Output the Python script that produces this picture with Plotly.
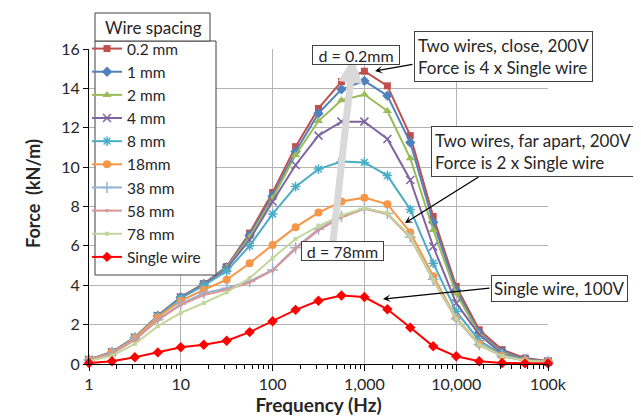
import plotly.graph_objects as go

freq = [1, 1.78, 3.16, 5.62, 10, 17.8, 31.6, 56.2, 100, 178, 316, 562, 1000,
        1780, 3160, 5620, 10000, 17800, 31600, 56200, 100000]

f_02mm = [0.22, 0.60, 1.35, 2.46, 3.40, 4.08, 4.95, 6.65, 8.71, 11.04, 12.98, 14.34, 14.87,
          14.13, 11.60, 7.49, 3.94, 1.74, 0.73, 0.30, 0.15]
f_1mm = [0.22, 0.60, 1.35, 2.45, 3.39, 4.06, 4.92, 6.55, 8.53, 10.79, 12.73, 13.95, 14.38,
         13.63, 11.25, 7.20, 3.75, 1.60, 0.62, 0.25, 0.13]
f_2mm = [0.22, 0.60, 1.35, 2.45, 3.38, 4.05, 4.90, 6.45, 8.42, 10.61, 12.34, 13.40, 13.69,
         12.85, 10.45, 6.81, 3.58, 1.52, 0.57, 0.23, 0.12]
f_4mm = [0.22, 0.60, 1.34, 2.44, 3.37, 4.03, 4.86, 6.30, 8.25, 10.11, 11.60, 12.31, 12.31,
         11.43, 9.35, 5.97, 3.09, 1.49, 0.52, 0.22, 0.12]
f_8mm = [0.21, 0.59, 1.33, 2.43, 3.34, 3.98, 4.72, 6.00, 7.62, 9.01, 9.90, 10.28, 10.24,
         9.57, 7.85, 5.12, 2.67, 1.20, 0.47, 0.20, 0.11]
f_18mm = [0.21, 0.58, 1.32, 2.38, 3.21, 3.77, 4.28, 5.12, 6.05, 6.95, 7.69, 8.25, 8.45,
          8.11, 6.69, 4.46, 2.35, 1.02, 0.42, 0.18, 0.10]
f_38mm = [0.20, 0.55, 1.25, 2.25, 3.05, 3.60, 3.85, 4.20, 4.78, 5.90, 6.85, 7.50, 7.90,
          7.65, 6.45, 4.30, 2.30, 0.98, 0.40, 0.18, 0.10]
f_58mm = [0.20, 0.53, 1.22, 2.22, 3.00, 3.50, 3.77, 4.14, 4.75, 5.85, 6.80, 7.45, 7.88,
          7.62, 6.42, 4.25, 2.28, 0.97, 0.40, 0.18, 0.10]
f_78mm = [0.15, 0.42, 1.02, 1.92, 2.60, 3.10, 3.64, 4.36, 5.38, 6.35, 7.00, 7.55, 7.92,
          7.66, 6.48, 4.28, 2.30, 0.98, 0.40, 0.18, 0.10]
f_single = [0.05, 0.14, 0.34, 0.59, 0.85, 0.98, 1.18, 1.62, 2.17, 2.75, 3.21, 3.48, 3.40,
            2.78, 1.85, 0.90, 0.39, 0.14, 0.05, 0.03, 0.03]

x_tickvals = [1, 10, 100, 1000, 10000, 100000]
x_ticktext = ["1", "10", "100", "1,000", "10,000", "100k"]
minor_vals = [m * 10 ** e for e in range(5) for m in range(2, 10)]

FONT = "Lato"
TXT = "#262626"
BORDER = "#404040"

series = [
    ("0.2 mm", f_02mm, "#C0504D", "square", 7, None),
    ("1 mm", f_1mm, "#4F81BD", "diamond", 8, None),
    ("2 mm", f_2mm, "#9BBB59", "triangle-up", 8, None),
    ("4 mm", f_4mm, "#8064A2", "x-thin-open", 8, 1.5),
    ("8 mm", f_8mm, "#4BACC6", "asterisk-open", 8, 1.5),
    ("18mm", f_18mm, "#F79646", "circle", 8, None),
    ("38 mm", f_38mm, "#95B3D7", "cross-thin-open", 8, 1.5),
    ("58 mm", f_58mm, "#D99694", "square", 3, None),
    ("78 mm", f_78mm, "#C3D69B", "square", 4, None),
    ("Single wire", f_single, "#FF0000", "diamond", 8, None),
]

fig = go.Figure()
for i, (name, vals, col, sym, size, lw) in enumerate(series):
    marker = dict(symbol=sym, size=size, color=col)
    if lw:
        marker["line"] = dict(color=col, width=lw)
    fig.add_trace(go.Scatter(
        x=freq, y=vals, name=name, mode="lines+markers",
        line=dict(color=col, width=2), marker=marker,
        cliponaxis=False,
    ))

L, R, T, B = 81, 101, 41, 60
W, H = 641, 416
PW, PH = W - L - R, H - T - B


def px(x):
    return (x - L) / PW


def py(y):
    return (H - B - y) / PH


fig.update_layout(
    width=W, height=H,
    margin=dict(l=L, r=R, t=T, b=B),
    paper_bgcolor="white", plot_bgcolor="white",
    font=dict(family=FONT, size=16, color=TXT),
    legend=dict(
        x=px(79), y=py(24), xanchor="left", yanchor="top",
        bgcolor="rgba(0,0,0,0)", borderwidth=0,
        font=dict(family=FONT, size=15.5, color=TXT),
        itemwidth=30, maxheight=400, tracegroupgap=0,
    ),
    showlegend=True,
)

fig.update_xaxes(
    type="log", range=[0, 5],
    tickvals=x_tickvals, ticktext=x_ticktext,
    ticks="outside", ticklen=6, tickcolor="black",
    showline=True, linecolor="black", linewidth=1,
    showgrid=True, gridcolor="#b3b3b3", gridwidth=1,
    zeroline=False,
    tickfont=dict(family=FONT, size=16, color=TXT),
    minor=dict(tickvals=minor_vals, ticks="outside", ticklen=4, tickcolor="black", showgrid=False),
    title=dict(text="<b>Frequency (Hz)</b>", font=dict(family=FONT, size=19, color=TXT), standoff=6),
)
fig.update_yaxes(
    range=[0, 16], dtick=2,
    ticks="outside", ticklen=5, tickcolor="black",
    showline=True, linecolor="black", linewidth=1,
    showgrid=True, gridcolor="#b3b3b3", gridwidth=1,
    zeroline=False,
    tickfont=dict(family=FONT, size=16, color=TXT),
)

# legend boxes drawn as shapes (legend itself transparent)
shapes = [
    dict(type="rect", xref="paper", yref="paper", x0=px(87), x1=px(208), y0=py(267), y1=py(33),
         fillcolor="white", line=dict(color=BORDER, width=1), layer="above"),
    dict(type="rect", xref="paper", yref="paper", x0=px(87), x1=px(202), y0=py(33), y1=py(5),
         fillcolor="white", line=dict(color=BORDER, width=1), layer="above"),
]
fig.update_layout(shapes=shapes)

ann = []
ann.append(dict(xref="paper", yref="paper", x=px(95), y=py(19), xanchor="left", yanchor="middle",
                text="Wire spacing", showarrow=False, font=dict(family=FONT, size=17, color=TXT)))
# y-axis title
ann.append(dict(xref="paper", yref="paper", x=px(25), y=py(186), xanchor="center", yanchor="middle",
                text="<b>Force  (kN/m)</b>", textangle=-90, showarrow=False,
                font=dict(family=FONT, size=18, color=TXT)))
# gray direction arrow
ann.append(dict(xref="paper", yref="paper", axref="pixel", ayref="pixel",
                x=px(345), y=py(50), ax=324 - 345, ay=243 - 50, text="", showarrow=True,
                arrowhead=2, arrowsize=0.7, arrowwidth=7, arrowcolor="#d9d9d9"))
# d labels
ann.append(dict(xref="paper", yref="paper", x=px(348), y=py(37), text="d = 0.2mm", showarrow=False,
                font=dict(family=FONT, size=16, color=TXT), bgcolor="white",
                width=86, height=18, borderpad=0,
                bordercolor=BORDER, borderwidth=1))
ann.append(dict(xref="paper", yref="paper", x=px(334), y=py(253), text="d = 78mm", showarrow=False,
                font=dict(family=FONT, size=16, color=TXT), bgcolor="white",
                width=81, height=18, borderpad=0,
                bordercolor=BORDER, borderwidth=1))
# callout boxes
boxes = [
    ("Two wires, close, 200V<br>Force is 4 x Single wire", 406, 23, 3, "left"),
    ("Two wires, far apart, 200V<br>Force is 2 x Single wire", 423, 118, 3, "left"),
    ("Single wire, 100V", 483, 267, 2, "center"),
]
for text, bx, by, pad, al in boxes:
    ann.append(dict(xref="paper", yref="paper", x=px(bx), y=py(by), xanchor="left", yanchor="top",
                    text=text, showarrow=False, align=al,
                    font=dict(family=FONT, size=17, color=TXT), bgcolor="white",
                    bordercolor=BORDER, borderwidth=1, borderpad=pad))
# callout arrows (head, tail)
arrows = [((367, 63), (406, 56)), ((397, 215), (472, 168)), ((375, 291), (483, 280))]
for (hx, hy), (tx, ty) in arrows:
    ann.append(dict(xref="paper", yref="paper", axref="pixel", ayref="pixel",
                    x=px(hx), y=py(hy), ax=tx - hx, ay=ty - hy, text="", showarrow=True,
                    arrowhead=3, arrowsize=1, arrowwidth=1.3, arrowcolor="black"))
fig.update_layout(annotations=ann)

fig.write_html("out.html")
